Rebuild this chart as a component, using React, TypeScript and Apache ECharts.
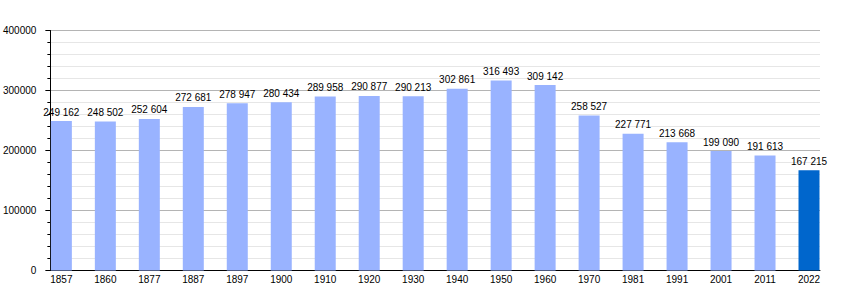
import React, { useEffect, useRef } from "react";
import * as echarts from "echarts";

const years = ["1857","1860","1877","1887","1897","1900","1910","1920","1930","1940","1950","1960","1970","1981","1991","2001","2011","2022"];
const population = [249162,248502,252604,272681,278947,280434,289958,290877,290213,302861,316493,309142,258527,227771,213668,199090,191613,167215];
const highlightIndex = 17;

function fmt(v: number): string {
  return String(v).replace(/\B(?=(\d{3})+(?!\d))/g, " ");
}

export default function App() {
  const ref = useRef<HTMLDivElement>(null);
  useEffect(() => {
    if (!ref.current) return;
    const chart = echarts.init(ref.current, undefined, { renderer: "svg" });
    chart.setOption({
      animation: false,
      grid: { left: 50, right: 30, top: 30.5, bottom: 29.5, containLabel: false },
      xAxis: {
        type: "value",
        min: -0.25,
        max: years.length - 1 + 0.25,
        interval: 0.25,
        axisLine: { show: true, onZero: false, lineStyle: { color: "#000", width: 1 } },
        axisTick: { show: false },
        splitLine: { show: false },
        axisLabel: {
          color: "#000",
          fontSize: 10,
          fontFamily: "Liberation Sans",
          margin: 4,
          formatter: (v: number) => {
            const i = Math.round(v);
            return Math.abs(v - i) < 1e-6 && i >= 0 && i < years.length ? years[i] : "";
          },
        },
      },
      yAxis: {
        type: "value",
        min: 0,
        max: 400000,
        interval: 100000,
        axisLine: { show: true, onZero: false, lineStyle: { color: "#000", width: 1 } },
        axisTick: { show: true, length: 5, lineStyle: { color: "#000" } },
        minorTick: { show: true, splitNumber: 5, length: 3, lineStyle: { color: "#000" } },
        splitLine: { show: true, lineStyle: { color: "#b4b4b4", width: 1 } },
        minorSplitLine: { show: true, lineStyle: { color: "#e6e6e6", width: 1 } },
        axisLabel: {
          color: "#000",
          fontSize: 10,
          fontFamily: "Liberation Sans",
          margin: 14,
          formatter: (v: number) => String(v),
        },
      },
      series: [
        {
          type: "bar",
          barWidth: 21,
          data: population.map((v, i) => ({
            value: [i, v],
            itemStyle: { color: i === highlightIndex ? "#0066cc" : "#99b3ff" },
          })),
          label: {
            show: true,
            position: "top",
            distance: 4,
            color: "#000",
            fontSize: 10,
            fontFamily: "Liberation Sans",
            formatter: (p: any) => fmt(p.value[1]),
          },
        },
      ],
    });
    return () => chart.dispose();
  }, []);
  return <div ref={ref} style={{ width: 850, height: 300, position: "absolute", left: 0, top: 0, background: "#fff" }} />;
}
